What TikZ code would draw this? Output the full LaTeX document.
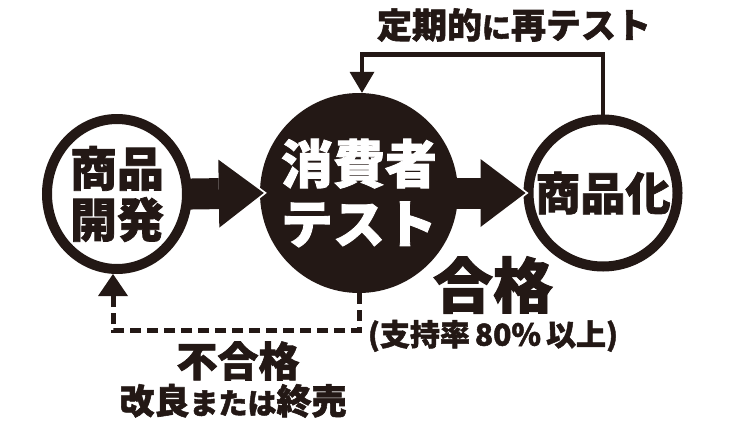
\documentclass[tikz,border=0pt]{standalone}
\usepackage{fontspec}
\setmainfont{Noto Sans CJK JP}[BoldFeatures={FakeBold=1.6}]
\usetikzlibrary{positioning,arrows.meta,shapes.geometric}
\definecolor{ink}{RGB}{35,24,21}
\newcommand{\kana}[1]{{\fontsize{29}{29}\selectfont #1}}

\begin{document}
\begin{tikzpicture}[
  x=1pt, y=-1pt,
  ring/.style={ellipse, draw=ink, line width=10pt, inner xsep=-20pt, inner ysep=0pt, align=center, text=ink, font=\bfseries\fontsize{45}{50}\selectfont},
  blob/.style={ellipse, fill=ink, inner xsep=-20pt, inner ysep=0pt, align=center, text=white, font=\bfseries\fontsize{52}{60}\selectfont},
  blockarrow/.style={ink, line width=31pt, -{Triangle[length=45pt,width=68pt,line width=0pt]}},
  tipedge/.style={white, line width=31pt, -{Triangle[length=51pt,width=78pt,line width=0pt]}},
  loopline/.style={ink, line width=4.5pt, -{Triangle[length=21pt,width=25pt,line width=0pt]}},
  dashline/.style={ink, line width=5pt, dash pattern=on 11pt off 6pt, -{Triangle[length=22pt,width=30pt,line width=0pt]}},
  lbl/.style={text=ink, inner sep=0pt, align=center}
]
\useasboundingbox (0,0) rectangle (730,431);

\node[ring, minimum width=140pt, minimum height=150pt, font=\bfseries\fontsize{47}{51}\selectfont] (dev) at (117,194) {商品\\開発};
\node[blob, minimum width=198pt, minimum height=200pt] (test) at (359,193) {消費者\\テスト};
\node[ring, minimum width=149pt, minimum height=147pt] (prod) at (603,193) {商品化};

% block arrows with a white rim at the tip
\draw[tipedge, shorten <=20pt, shorten >=-7pt] (dev.east) -- (test.west);
\draw[blockarrow, shorten <=-5pt, shorten >=-4pt] (dev.east) -- (test.west);
\draw[tipedge, shorten <=20pt, shorten >=-5pt] (test.east) -- (prod.west);
\draw[blockarrow, shorten <=-5pt, shorten >=-2pt] (test.east) -- (prod.west);

\draw[loopline] (prod.north) -- ++(0,-60) -| ([xshift=3pt]test.north);
\draw[dashline] (test.south) -- ++(0,37) -| ([xshift=-4pt]dev.south);

\node[lbl, font=\bfseries\fontsize{35}{35}\selectfont] (retest) at (514,25) {定期的\kana{に}再テスト};
\node[lbl, font=\bfseries\fontsize{60}{60}\selectfont] (pass) at (493,285) {合格};
\node[lbl, font=\bfseries\fontsize{30}{30}\selectfont, below=6pt of pass] (passnote) {(支持率\,80\%\,以上)};
\node[lbl, font=\bfseries\fontsize{41}{41}\selectfont] (fail) at (238,361) {不合格};
\node[lbl, font=\bfseries\fontsize{35}{35}\selectfont, below=3pt of fail, xshift=-5pt] (failnote) {改良\kana{または}終売};
\end{tikzpicture}
\end{document}
